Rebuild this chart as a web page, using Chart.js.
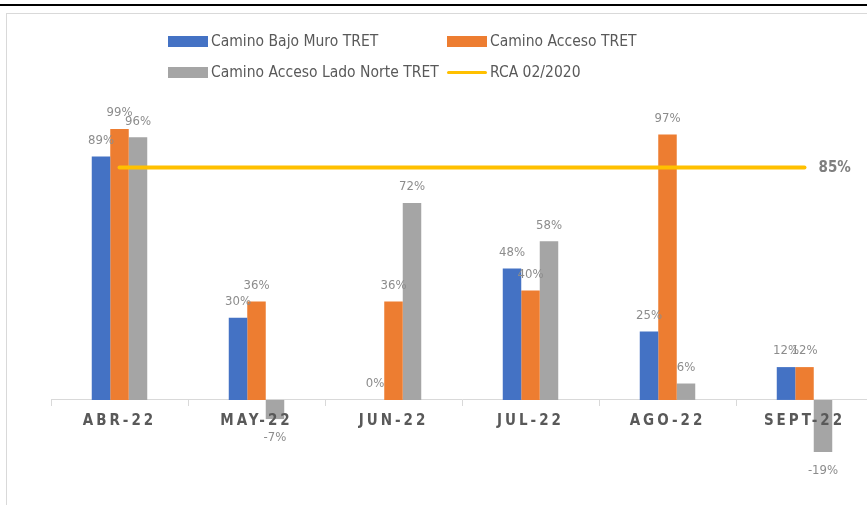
<!DOCTYPE html>
<html>
<head>
<meta charset="utf-8">
<script src="https://cdn.jsdelivr.net/npm/chart.js@4.4.1/dist/chart.umd.min.js"></script>
<style>
  body { margin: 0; background: #fff; }
  #wrap { position: relative; width: 867px; height: 505px; overflow: hidden; background: #fff; }
  #topline { position: absolute; left: 0; top: 4px; width: 867px; height: 2px; background: #000; }
  #frame { position: absolute; left: 6px; top: 13px; width: 900px; height: 600px; border: 1px solid #d9d9d9; }
  #chartBox { position: absolute; left: 0; top: 0; width: 880px; height: 505px; }
  #legend { position: absolute; left: 0; top: 0; font-family: 'Liberation Sans Narrow', 'DejaVu Sans Condensed', sans-serif; font-size: 15.5px; color: #595959; }
  .item { position: absolute; display: flex; align-items: center; white-space: nowrap; }
  .sw { width: 40px; margin-right: 3px; }
</style>
</head>
<body>
<div id="wrap">
  <div id="topline"></div>
  <div id="frame"></div>
  <div id="chartBox"><canvas id="chart"></canvas></div>
  <div id="legend"></div>
</div>
<script>
const categories = ['ABR-22', 'MAY-22', 'JUN-22', 'JUL-22', 'AGO-22', 'SEPT-22'];
const bajoMuro = [89, 30, 0, 48, 25, 12];
const acceso = [99, 36, 36, 40, 97, 12];
const ladoNorte = [96, -7, 72, 58, 6, -19];
const rca = [85, 85, 85, 85, 85, 85];

const seriesNames = ['Camino Bajo Muro TRET', 'Camino Acceso TRET', 'Camino Acceso Lado Norte TRET', 'RCA 02/2020'];
const seriesColors = ['#4472C4', '#ED7D31', '#A5A5A5', '#FFC000'];

const labelFont = "'Liberation Sans Narrow', 'DejaVu Sans Condensed', sans-serif";

// etiquetas de valor encima / debajo de cada barra
const valueLabels = {
    id: 'valueLabels',
    afterDatasetsDraw(chart) {
        const ctx = chart.ctx;
        ctx.save();
        ctx.letterSpacing = '0px';
        ctx.textAlign = 'center';
        ctx.textBaseline = 'middle';
        chart.data.datasets.forEach((ds, i) => {
            const meta = chart.getDatasetMeta(i);
            if (ds.type === 'line') {
                const last = meta.data[meta.data.length - 1];
                ctx.font = 'bold 15px ' + labelFont;
                ctx.fillStyle = '#7f7f7f';
                ctx.textAlign = 'left';
                ctx.fillText(ds.data[ds.data.length - 1] + '%', last.x + 14, last.y + 1);
                ctx.textAlign = 'center';
                return;
            }
            ctx.font = '13px ' + labelFont;
            ctx.fillStyle = '#8c8c8c';
            meta.data.forEach((el, j) => {
                const v = ds.data[j];
                const y = v >= 0 ? el.y - 16 : el.y + 19;
                ctx.fillText(v + '%', el.x, y);
            });
        });
        ctx.restore();
        // espaciado de letras para las etiquetas del eje x (se dibujan despues)
        ctx.letterSpacing = '3px';
    },
    afterDraw(chart) {
        chart.ctx.letterSpacing = '0px';
    }
};

const barDs = (label, data, color) => ({
    type: 'bar',
    label: label,
    data: data,
    backgroundColor: color,
    borderWidth: 0,
    barPercentage: 1,
    categoryPercentage: 0.405,
    order: 1
});

new Chart(document.getElementById('chart'), {
    data: {
        labels: categories,
        datasets: [
            barDs(seriesNames[0], bajoMuro, seriesColors[0]),
            barDs(seriesNames[1], acceso, seriesColors[1]),
            barDs(seriesNames[2], ladoNorte, seriesColors[2]),
            {
                type: 'line',
                label: seriesNames[3],
                data: rca,
                borderColor: seriesColors[3],
                borderWidth: 4,
                borderCapStyle: 'round',
                pointRadius: 0,
                fill: false,
                order: 0
            }
        ]
    },
    options: {
        responsive: true,
        maintainAspectRatio: false,
        animation: false,
        layout: { padding: { left: 51, right: 7, top: 99, bottom: 23 } },
        plugins: { legend: { display: false }, tooltip: { enabled: false } },
        scales: {
            x: {
                position: { y: 0 },
                grid: { display: true, drawOnChartArea: false, drawTicks: true, tickLength: 6, color: '#d9d9d9', offset: true },
                border: { color: '#d9d9d9', width: 1 },
                ticks: {
                    z: 1,
                    autoSkip: false,
                    maxRotation: 0,
                    padding: 6,
                    color: '#595959',
                    font: { family: labelFont, size: 15, weight: 'bold' }
                }
            },
            y: {
                display: false,
                min: -30,
                max: 110
            }
        }
    },
    plugins: [valueLabels]
});

// leyenda en dos columnas, como en Excel
const legend = document.getElementById('legend');
const legendPos = [[168, 42], [447, 42], [168, 73], [447, 73]];
seriesNames.forEach((name, i) => {
    const item = document.createElement('div');
    item.className = 'item';
    item.style.left = legendPos[i][0] + 'px';
    item.style.top = (legendPos[i][1] - 10) + 'px';
    const sw = document.createElement('span');
    sw.className = 'sw';
    sw.style.background = seriesColors[i];
    sw.style.height = i === 3 ? '3px' : '11px';
    if (i === 3) sw.style.borderRadius = '2px';
    item.appendChild(sw);
    item.appendChild(document.createTextNode(name));
    legend.appendChild(item);
});
</script>
</body>
</html>
